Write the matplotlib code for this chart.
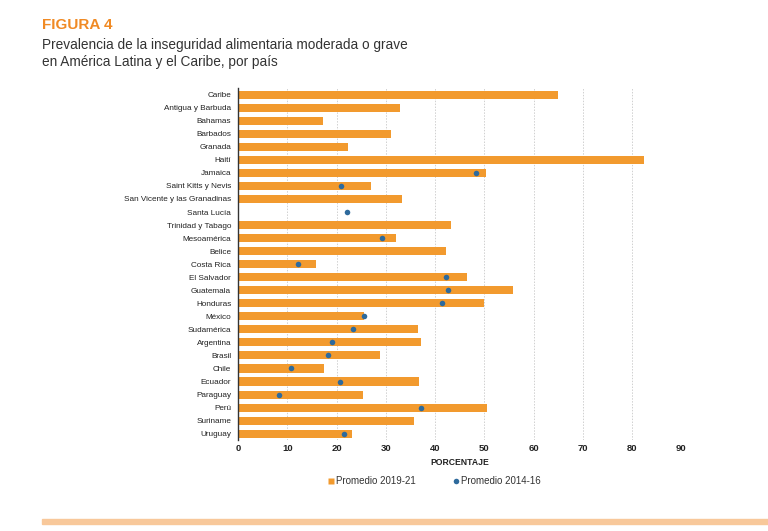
import numpy as np
import matplotlib
matplotlib.use("Agg")
import matplotlib.pyplot as plt
from matplotlib.lines import Line2D
from matplotlib.patches import Rectangle

plt.rcParams['font.family'] = ['Liberation Sans Narrow', 'Liberation Sans', 'DejaVu Sans']

paises = ["Caribe", "Antigua y Barbuda", "Bahamas", "Barbados", "Granada", "Haití",
          "Jamaica", "Saint Kitts y Nevis", "San Vicente y las Granadinas", "Santa Lucía",
          "Trinidad y Tabago", "Mesoamérica", "Belice", "Costa Rica", "El Salvador",
          "Guatemala", "Honduras", "México", "Sudamérica", "Argentina", "Brasil", "Chile",
          "Ecuador", "Paraguay", "Perú", "Suriname", "Uruguay"]
# Promedio 2019-21 (barras); None = sin dato
prom_2019_21 = [65.0, 32.9, 17.2, 31.1, 22.3, 82.4, 50.3, 26.9, 33.3, None,
                43.2, 32.0, 42.3, 15.8, 46.5, 55.9, 49.9, 25.6, 36.6, 37.1,
                28.9, 17.4, 36.8, 25.3, 50.5, 35.8, 23.1]
# Promedio 2014-16 (puntos)
prom_2014_16 = [None, None, None, None, None, None, 48.3, 21.0, None, 22.2,
                None, 29.3, None, 12.2, 42.2, 42.7, 41.5, 25.6, 23.4, 19.1,
                18.3, 10.8, 20.7, 8.3, 37.2, None, 21.6]
xticks = [0, 10, 20, 30, 40, 50, 60, 70, 80, 90]

naranja = "#F29A2E"
azul = "#2E6A9C"

fig = plt.figure(figsize=(7.68, 5.31), dpi=100)
ax = fig.add_axes([0.31, 0.171, 0.577, 0.663])

n = len(paises)
y = np.arange(n)
bar_vals = [v if v is not None else 0 for v in prom_2019_21]
ax.barh(y, bar_vals, height=0.62, color=naranja, zorder=2)
dot_y = [yy for yy, v in zip(y, prom_2014_16) if v is not None]
dot_x = [v for v in prom_2014_16 if v is not None]
ax.scatter(dot_x, dot_y, s=16, color=azul, zorder=3, linewidths=0)

ax.set_ylim(n - 0.5, -0.5)
ax.set_xlim(0, 90)
ax.set_yticks(y)
ax.set_yticklabels(paises, fontsize=5.9, color="#222222")
ax.set_xticks(xticks)
ax.set_xticklabels([str(t) for t in xticks], fontsize=6.8, fontweight="bold", color="#222222")
ax.tick_params(axis='x', length=0, pad=3)
ax.tick_params(axis='y', length=0, pad=5)
for s in ["top", "right", "bottom"]:
    ax.spines[s].set_visible(False)
ax.spines["left"].set_color("#333333")
ax.spines["left"].set_linewidth(1.0)
ax.spines["left"].set_zorder(4)
ax.grid(axis='x', color="#d0d0d0", linestyle=(0, (1.5, 1.5)), linewidth=0.7, zorder=0)
ax.set_axisbelow(True)
ax.set_xlabel("PORCENTAJE", fontsize=6.2, fontweight="bold", color="#222222", labelpad=3)

handles = [Line2D([], [], marker='s', color='none', markerfacecolor=naranja,
                  markeredgecolor='none', markersize=4, label="Promedio 2019-21"),
           Line2D([], [], marker='o', color='none', markerfacecolor=azul,
                  markeredgecolor='none', markersize=4, label="Promedio 2014-16")]
fig.legend(handles=handles, loc='center', bbox_to_anchor=(0.565, 0.094), ncol=2,
           frameon=False, fontsize=7, handletextpad=0.1, columnspacing=3.8,
           handlelength=0.8, labelcolor="#333333")

fig.text(0.055, 0.966, "FIGURA 4", fontsize=11, fontweight="bold", color="#F08A24", va="top")
fig.text(0.055, 0.929, "Prevalencia de la inseguridad alimentaria moderada o grave\nen América Latina y el Caribe, por país",
         fontsize=9.8, color="#333333", va="top", linespacing=1.3)

fig.patches.append(Rectangle((0.055, 0.013), 0.945, 0.010, transform=fig.transFigure,
                             color="#F8C89A", zorder=0))

fig.savefig("out.png", dpi=100, facecolor="white")
